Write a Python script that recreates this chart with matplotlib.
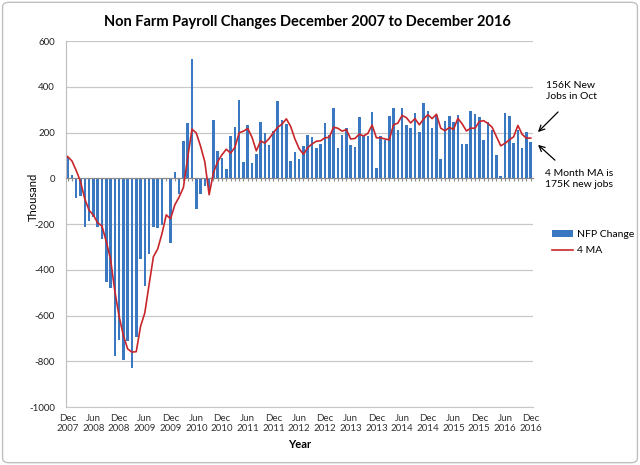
import numpy as np
import matplotlib.pyplot as plt
from matplotlib.patches import FancyBboxPatch

plt.rcParams['font.family'] = ['Lato', 'DejaVu Sans']
plt.rcParams['axes.unicode_minus'] = False

#%% data (thousands), Dec 2007 .. Dec 2016
nfp_change = [
    92,
    15, -84, -78, -212, -185, -170, -212, -265, -455, -478, -775, -705,
    -795, -710, -830, -695, -355, -472, -333, -212, -219, -203, -5, -281,
    26, -67, 163, 241, 521, -133, -70, -33, -52, 255, 121, 89,
    41, 187, 223, 343, 72, 234, 67, 105, 245, 200, 146, 207,
    339, 255, 239, 76, 117, 85, 143, 190, 181, 133, 150, 242,
    190, 309, 133, 190, 219, 146, 139, 269, 187, 187, 289, 44,
    187, 168, 273, 309, 212, 307, 232, 218, 286, 201, 330, 293,
    220, 277, 85, 251, 273, 248, 277, 152, 152, 293, 280, 267,
    168, 244, 212, 102, 10, 286, 274, 153, 209, 133, 204, 158,
]

ma4 = [
    95,
    76, 34, -14, -90, -140, -161, -195, -208, -276, -353, -493, -603,
    -688, -746, -760, -758, -648, -588, -464, -343, -309, -242, -160, -177,
    -116, -82, -40, 91, 215, 198, 140, 71, -72, 25, 73, 103,
    127, 110, 135, 199, 206, 218, 179, 120, 163, 154, 174, 200,
    223, 237, 260, 227, 172, 129, 105, 134, 150, 162, 164, 177,
    179, 223, 219, 206, 213, 172, 174, 193, 185, 196, 233, 177,
    177, 172, 168, 234, 241, 275, 265, 242, 261, 234, 259, 278,
    261, 280, 219, 208, 222, 214, 262, 238, 207, 219, 219, 248,
    252, 240, 223, 182, 142, 153, 168, 181, 231, 192, 175, 176,
]

months = []
for y in range(2007, 2017):
    for m in ['Jan', 'Feb', 'Mar', 'Apr', 'May', 'Jun',
              'Jul', 'Aug', 'Sep', 'Oct', 'Nov', 'Dec']:
        months.append(m + '\n' + str(y))
months = months[11:]  # start at Dec 2007

#%%
fig = plt.figure(figsize=(6.4, 4.65), dpi=100)
ax = fig.add_axes([0.103, 0.1247, 0.730, 0.787])

x = np.arange(len(nfp_change))
bars = ax.bar(x, nfp_change, width=0.6, color='#3b78c2', label='NFP Change', zorder=2)
line, = ax.plot(x, ma4, color='#c8262b', linewidth=1.2, label='4 MA', zorder=3)

ax.set_xlim(-0.4, len(x) - 0.45)
ax.set_ylim(-1000, 600)
ax.set_yticks(np.arange(-1000, 601, 200))
ax.tick_params(axis='y', length=0, labelsize=7, pad=8, labelcolor='#222222')
ax.yaxis.grid(True, color='#c8c8c8', linewidth=0.9, zorder=0)
ax.set_axisbelow(True)

for s in ['top', 'right']:
    ax.spines[s].set_visible(False)
ax.spines['left'].set_color('#bdbdbd')
ax.spines['bottom'].set_position(('data', 0))
ax.spines['bottom'].set_color('#8a8a8a')
ax.set_xticks(x)
ax.tick_params(axis='x', length=2.5, color='#8a8a8a', labelbottom=False)

sec = ax.secondary_xaxis(0)
sec.set_xticks(x[::6], [months[i] for i in x[::6]])
sec.tick_params(length=0, labelsize=7, pad=5, colors='#333333')
sec.spines['bottom'].set_color('#c8c8c8')
sec.set_xlabel('Year', fontsize=8, fontweight='bold', labelpad=4)

ax.set_ylabel('Thousand', fontsize=8)
ax.yaxis.set_label_coords(-0.058, 0.574)

fig.text(0.48, 0.952, 'Non Farm Payroll Changes December 2007 to December 2016',
         ha='center', va='center', fontsize=10.5, fontweight='bold')

ax.legend([bars, line], ['NFP Change', '4 MA'], loc='upper left',
          bbox_to_anchor=(0.862, 0.505), bbox_transform=fig.transFigure,
          frameon=False, fontsize=7.5, borderpad=0, borderaxespad=0,
          handlelength=2.0, handleheight=0.6, handletextpad=0.4,
          labelspacing=0.7)

fig.text(0.853, 0.805, '156K New\nJobs in Oct', fontsize=7.5, va='center',
         linespacing=1.3)
fig.text(0.851, 0.615, '4 Month MA is\n175K new jobs', fontsize=7.5, va='center',
         linespacing=1.3)
arrow = dict(arrowstyle='->', color='black', linewidth=0.9)
ax.annotate('', xy=(536, 465 - 134), xytext=(560, 465 - 110),
            xycoords='figure pixels', textcoords='figure pixels', arrowprops=arrow)
ax.annotate('', xy=(536, 465 - 143), xytext=(557, 465 - 162),
            xycoords='figure pixels', textcoords='figure pixels', arrowprops=arrow)

fig.patches.append(FancyBboxPatch((0.004, 0.005), 0.992, 0.99,
                                  boxstyle='round,pad=0,rounding_size=0.01',
                                  transform=fig.transFigure, fill=False,
                                  edgecolor='#c0c0c0', linewidth=1))

plt.savefig('out.png', dpi=100)
